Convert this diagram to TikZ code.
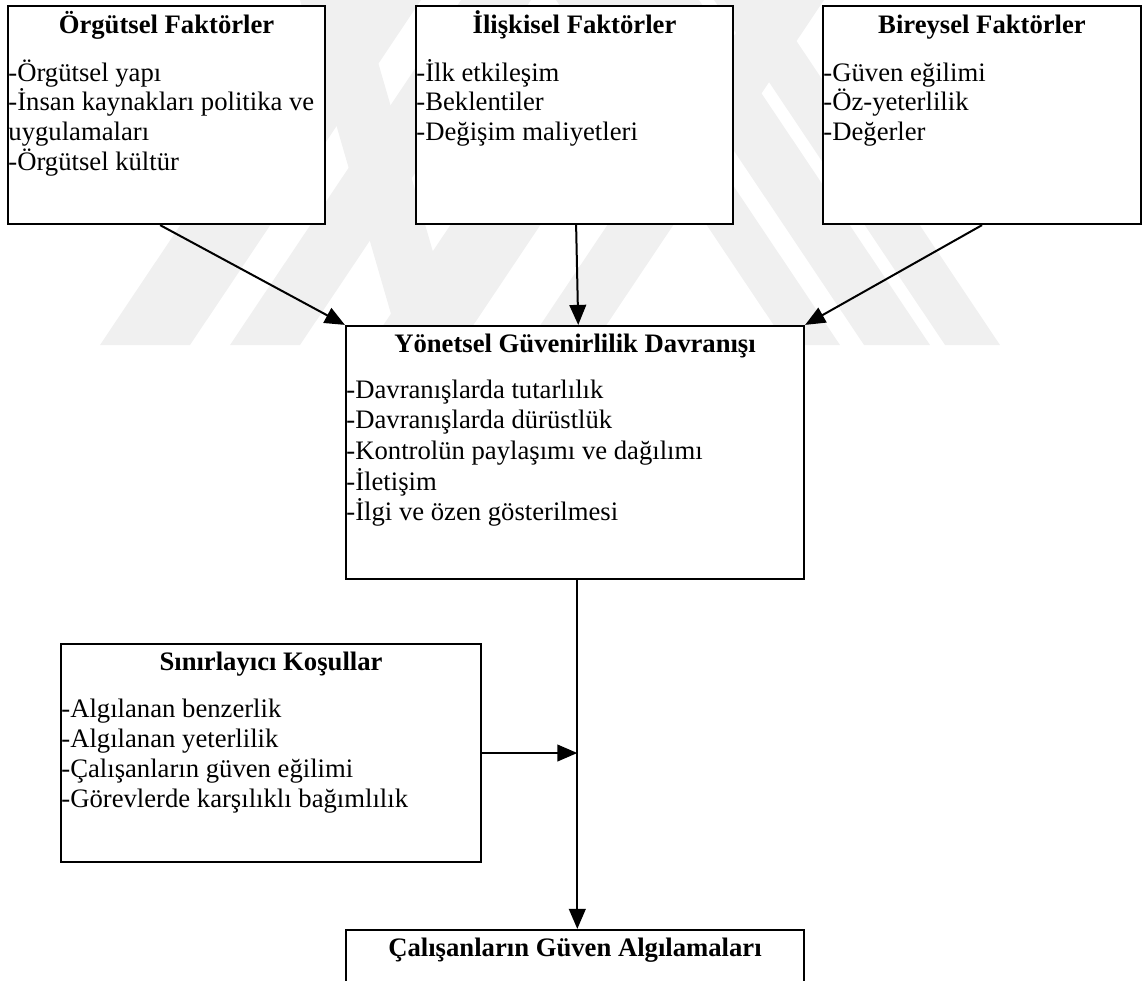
\documentclass[tikz,border=0pt]{standalone}
\usepackage{fontspec}
\setmainfont{Liberation Serif}
\usetikzlibrary{arrows.meta,fit,calc}

\tikzset{
  box/.style={draw=black, line width=1pt, fill=white, inner sep=0pt},
  boxtitle/.style={font=\fontsize{12}{13.8}\selectfont\bfseries, anchor=base, inner sep=0pt},
  item/.style={font=\fontsize{12}{13.8}\selectfont, anchor=base west, inner sep=0pt},
  link/.style={line width=0.9pt, -{Triangle[length=9pt,width=7.5pt]}},
  wmband/.style={fill=black!6, draw=none}
}

\begin{document}
\begin{tikzpicture}[x=0.45pt, y=-0.45pt]
\useasboundingbox (0,0) rectangle (1143,980);

% faint background emblem: diagonal stripes with a flat lower edge
% rising to the right
\fill[wmband] (100,345) -- (190,345) -- (421,0) -- (331,0) -- cycle;
\fill[wmband] (230,345) -- (300,345) -- (531,0) -- (461,0) -- cycle;
\fill[wmband] (370,345) -- (460,345) -- (691,0) -- (601,0) -- cycle;
\fill[wmband] (527,345) -- (593,345) -- (824,0) -- (758,0) -- cycle;
% falling to the right
\fill[wmband] (787,345) -- (840,345) -- (609,0) -- (556,0) -- cycle;
\fill[wmband] (864,345) -- (930,345) -- (699,0) -- (633,0) -- cycle;
\fill[wmband] (945,345) -- (1000,345) -- (769,0) -- (714,0) -- cycle;
\fill[wmband] (300,0) -- (360,0) -- (460,345) -- (400,345) -- cycle;

% boxes
\node[box, fit={(8,6) (325,224)}] (org) {};
\node[box, fit={(416,6) (733,224)}] (ilis) {};
\node[box, fit={(823,6) (1141,224)}] (bir) {};
\node[box, fit={(346,326) (804,579)}] (yon) {};
\node[box, fit={(61,644) (481,862)}] (sin) {};
\node[box, fit={(346,930) (804,1010)}] (cal) {};

% titles
\node[boxtitle] (orgT) at (166.5,33) {Örgütsel Faktörler};
\node[boxtitle] (ilisT) at (574.5,33) {İlişkisel Faktörler};
\node[boxtitle] (birT) at (982,33) {Bireysel Faktörler};
\node[boxtitle] (yonT) at (575,352) {Yönetsel Güvenirlilik Davranışı};
\node[boxtitle] (sinT) at (271,670) {Sınırlayıcı Koşullar};
\node[boxtitle] (calT) at (575,956) {Çalışanların Güven Algılamaları};

% item lists
\foreach \t [count=\i from 0] in {-Örgütsel yapı, -İnsan kaynakları politika ve, uygulamaları, -Örgütsel kültür}
  \node[item] (orgI\i) at (8,81+29.7*\i) {\t};
\foreach \t [count=\i from 0] in {-İlk etkileşim, -Beklentiler, -Değişim maliyetleri}
  \node[item] (ilisI\i) at (416,81+29.7*\i) {\t};
\foreach \t [count=\i from 0] in {-Güven eğilimi, -Öz-yeterlilik, -Değerler}
  \node[item] (birI\i) at (823,81+29.7*\i) {\t};
\foreach \t [count=\i from 0] in {-Davranışlarda tutarlılık, -Davranışlarda dürüstlük, -Kontrolün paylaşımı ve dağılımı, -İletişim, -İlgi ve özen gösterilmesi}
  \node[item] (yonI\i) at (346,398+30.7*\i) {\t};
\foreach \t [count=\i from 0] in {-Algılanan benzerlik, -Algılanan yeterlilik, -Çalışanların güven eğilimi, -Görevlerde karşılıklı bağımlılık}
  \node[item] (sinI\i) at (61,717+30.3*\i) {\t};

% connectors
\coordinate (yonOut) at ($(yon.south west)!0.505!(yon.south east)$);
\coordinate (calIn) at ($(cal.north west)!0.505!(cal.north east)$);
\coordinate (join) at (yonOut |- sin.east);
\draw[link] ($(org.south west)!0.48!(org.south east)$) -- (yon.north west);
\draw[link] ($(ilis.south west)!0.505!(ilis.south east)$) -- ($(yon.north west)!0.507!(yon.north east)$);
\draw[link] (bir.south) -- (yon.north east);
\draw[link] (yonOut) -- (calIn);
\draw[link] (sin.east) -- (join);
\end{tikzpicture}
\end{document}
